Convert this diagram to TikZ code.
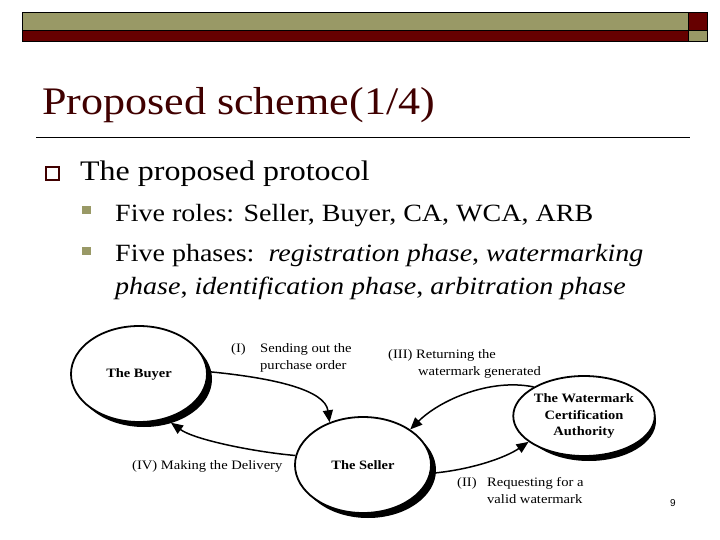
\documentclass[tikz,border=0pt]{standalone}
\usepackage{fontspec}
\setmainfont{Liberation Serif}[FakeStretch=1.13]
\newfontfamily\numfont{Liberation Sans}
\usetikzlibrary{shapes.geometric,arrows.meta}
\definecolor{slideolive}{HTML}{999966}
\definecolor{slidered}{HTML}{660000}
\definecolor{titlered}{HTML}{400000}
\begin{document}
\begin{tikzpicture}[x=1bp,y=-1bp,
  barbox/.style={draw=black, line width=0.8bp},
  txt/.style={anchor=base west, inner sep=0pt},
  role/.style={ellipse, draw=black, line width=1.8bp, fill=white, inner sep=0pt,
    align=center, font=\fontsize{12.8bp}{16.5bp}\selectfont\bfseries},
  shade/.style={fill=black},
  flow/.style={-{Triangle[length=12bp,width=10bp]}, line width=1.5bp},
  lbl/.style={anchor=base west, inner sep=0pt, font=\fontsize{12.9bp}{15bp}\selectfont}]
\useasboundingbox (0,0) rectangle (720,540);
\fill[white] (0,0) rectangle (720,540);
% top bar
\filldraw[barbox, fill=slideolive] (22,12) rectangle (688,30);
\filldraw[barbox, fill=slidered] (22,30) rectangle (688,41);
\filldraw[barbox, fill=slidered] (688,12) rectangle (707,30);
\filldraw[barbox, fill=slideolive] (688,30) rectangle (707,41);
% title
\node[txt, text=titlered, font=\fontsize{39bp}{40bp}\selectfont] (title) at (42,115) {Proposed scheme(1/4)};
\draw[line width=1bp] (36,138) -- (690,138);
% bullets
\draw[draw=titlered, line width=1.3bp] (46,167) rectangle (59,180);
\node[txt, font=\fontsize{28.3bp}{30bp}\selectfont] (l1) at (80,181) {The proposed protocol};
\fill[slideolive] (82,206) rectangle (91,214);
\node[txt, font=\fontsize{24.8bp}{26bp}\selectfont] (l2a) at (115,222) {Five roles: Seller, Buyer, CA, WCA, ARB};
\fill[slideolive] (82,247) rectangle (91,255);
\node[txt, font=\fontsize{24.8bp}{26bp}\selectfont] (l2b) at (115,262) {Five phases:\ \ \textit{registration phase}, \textit{watermarking}};
\node[txt, font=\fontsize{24.8bp}{26bp}\selectfont] (l2c) at (115,294) {\textit{phase}, \textit{identification phase}, \textit{arbitration phase}};
% ellipses with shadows
\fill[shade] (144,379) ellipse [x radius=68, y radius=48];
\node[role, minimum width=136bp, minimum height=96bp] (buyer) at (139,374) {The Buyer};
\fill[shade] (368,470) ellipse [x radius=68, y radius=48];
\node[role, minimum width=136bp, minimum height=96bp] (seller) at (363,465) {The Seller};
\fill[shade] (589,421) ellipse [x radius=67, y radius=40];
\node[role, minimum width=134bp, minimum height=80bp] (wca) at (584,416) {The Watermark\\Certification\\Authority};
% connectors
\draw[flow] (buyer.2) .. controls (275,378) and (325,390) .. (seller.128);
\draw[flow] (seller.-7) .. controls (470,470) and (505,458) .. (wca.-155);
\draw[flow] (wca.150) .. controls (490,378) and (440,400) .. (seller.37);
\draw[flow] (seller.172) .. controls (255,452) and (195,440) .. ([shift={(4,4)}]buyer.-58);
% labels
\node[lbl] (t1a) at (231,352) {(I)};
\node[lbl] (t1b) at (260,352) {Sending out the};
\node[lbl] (t1c) at (260,369) {purchase order};
\node[lbl] (t3a) at (388,358) {(III) Returning the};
\node[lbl] (t3b) at (418,375) {watermark generated};
\node[lbl] (t4) at (132,469) {(IV) Making the Delivery};
\node[lbl] (t2a) at (457,486) {(II)};
\node[lbl] (t2b) at (487,486) {Requesting for a};
\node[lbl] (t2c) at (487,503) {valid watermark};
\node[txt, font={\numfont\fontsize{10bp}{12bp}\selectfont}] (pg) at (670,506) {9};
\end{tikzpicture}
\end{document}
